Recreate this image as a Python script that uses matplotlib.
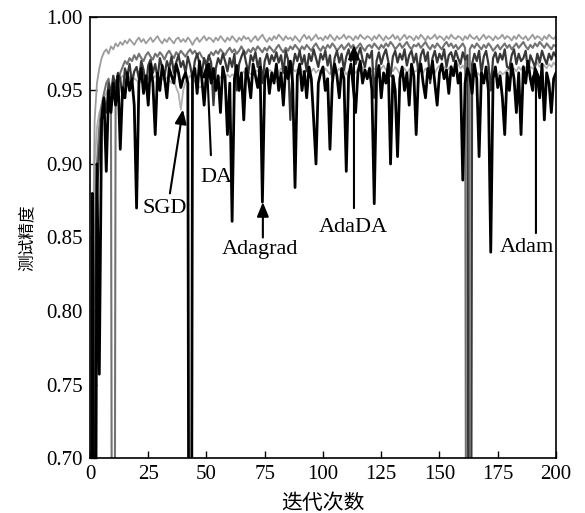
import numpy as np
import matplotlib
matplotlib.use("Agg")
import matplotlib.pyplot as plt

plt.rcParams['font.family'] = ['Liberation Serif', 'Noto Sans CJK SC']

iters = np.arange(0, 201)

sgd = [0.10, 0.70, 0.90, 0.925, 0.935, 0.940, 0.945, 0.948, 0.952, 0.950, 0.955, 0.957, 0.955, 0.958, 0.960, 0.958, 0.956, 0.959, 0.961, 0.958,
       0.957, 0.955, 0.956, 0.958, 0.957, 0.959, 0.956, 0.958, 0.960, 0.957, 0.955, 0.958, 0.957, 0.959, 0.957, 0.955, 0.957, 0.952, 0.948, 0.937,
       0.950, 0.956, 0.958, 0.960, 0.958, 0.956, 0.954, 0.952, 0.953, 0.955, 0.956, 0.958, 0.957, 0.955, 0.958, 0.957, 0.959, 0.960, 0.958, 0.961,
       0.959, 0.961, 0.960, 0.962, 0.959, 0.961, 0.963, 0.960, 0.962, 0.961, 0.963, 0.962, 0.964, 0.961, 0.963, 0.965, 0.962, 0.964, 0.963, 0.961,
       0.964, 0.962, 0.965, 0.963, 0.961, 0.964, 0.962, 0.965, 0.963, 0.964, 0.966, 0.963, 0.962, 0.964, 0.966, 0.963, 0.965, 0.962, 0.964, 0.963,
       0.962, 0.965, 0.963, 0.961, 0.964, 0.966, 0.963, 0.965, 0.962, 0.964, 0.961, 0.963, 0.966, 0.964, 0.962, 0.965, 0.963, 0.966, 0.964, 0.962,
       0.966, 0.963, 0.965, 0.964, 0.962, 0.965, 0.967, 0.964, 0.962, 0.965, 0.963, 0.966, 0.964, 0.961, 0.963, 0.965, 0.962, 0.964, 0.966, 0.963,
       0.963, 0.966, 0.964, 0.962, 0.965, 0.963, 0.966, 0.964, 0.962, 0.965, 0.967, 0.964, 0.966, 0.963, 0.965, 0.967, 0.964, 0.966, 0.968, 0.965,
       0.967, 0.964, 0.963, 0.961, 0.962, 0.960, 0.962, 0.961, 0.959, 0.961, 0.960, 0.962, 0.961, 0.959, 0.962, 0.960, 0.963, 0.961, 0.962, 0.964,
       0.964, 0.962, 0.965, 0.963, 0.966, 0.964, 0.967, 0.965, 0.968, 0.966, 0.965, 0.967, 0.969, 0.966, 0.968, 0.967, 0.965, 0.968, 0.966, 0.969,
       0.967]

adada = [0.10, 0.80, 0.93, 0.955, 0.965, 0.972, 0.976, 0.978, 0.975, 0.980, 0.978, 0.982, 0.980, 0.983, 0.981, 0.984, 0.982, 0.985, 0.983, 0.981,
         0.984, 0.986, 0.983, 0.985, 0.982, 0.984, 0.986, 0.983, 0.985, 0.987, 0.984, 0.982, 0.985, 0.983, 0.986, 0.984, 0.982, 0.985, 0.986, 0.983,
         0.985, 0.983, 0.986, 0.984, 0.981, 0.984, 0.986, 0.983, 0.985, 0.987, 0.984, 0.986, 0.985, 0.983, 0.986, 0.984, 0.987, 0.985, 0.983, 0.986,
         0.984, 0.987, 0.985, 0.983, 0.986, 0.984, 0.987, 0.985, 0.986, 0.983, 0.985, 0.987, 0.984, 0.986, 0.988, 0.985, 0.983, 0.986, 0.984, 0.987,
         0.985, 0.988, 0.986, 0.984, 0.987, 0.985, 0.986, 0.984, 0.987, 0.985, 0.983, 0.986, 0.988, 0.985, 0.987, 0.984, 0.986, 0.988, 0.985, 0.986,
         0.984, 0.987, 0.985, 0.988, 0.986, 0.984, 0.987, 0.985, 0.986, 0.988, 0.985, 0.987, 0.986, 0.984, 0.987, 0.985, 0.988, 0.986, 0.985, 0.987,
         0.986, 0.984, 0.987, 0.985, 0.988, 0.986, 0.984, 0.987, 0.985, 0.986, 0.988, 0.985, 0.987, 0.984, 0.986, 0.988, 0.985, 0.987, 0.986, 0.984,
         0.987, 0.985, 0.988, 0.986, 0.984, 0.987, 0.985, 0.986, 0.988, 0.985, 0.987, 0.986, 0.984, 0.987, 0.985, 0.988, 0.986, 0.985, 0.987, 0.986,
         0.984, 0.987, 0.985, 0.988, 0.986, 0.985, 0.987, 0.984, 0.986, 0.988, 0.985, 0.987, 0.986, 0.984, 0.987, 0.985, 0.986, 0.988, 0.985, 0.987,
         0.986, 0.984, 0.987, 0.985, 0.988, 0.986, 0.985, 0.987, 0.984, 0.986, 0.988, 0.985, 0.987, 0.986, 0.984, 0.987, 0.985, 0.988, 0.986, 0.985,
         0.987]

da = [0.10, 0.60, 0.85, 0.90, 0.925, 0.940, 0.948, 0.955, 0.958, 0.945, 0.10, 0.940, 0.955, 0.962, 0.966, 0.970, 0.968, 0.972, 0.970, 0.974,
      0.971, 0.975, 0.972, 0.970, 0.974, 0.976, 0.973, 0.971, 0.975, 0.973, 0.976, 0.974, 0.971, 0.975, 0.977, 0.974, 0.972, 0.976, 0.974, 0.977,
      0.975, 0.973, 0.976, 0.978, 0.975, 0.977, 0.974, 0.976, 0.973, 0.971, 0.969, 0.973, 0.976, 0.974, 0.977, 0.975, 0.978, 0.976, 0.974, 0.977,
      0.979, 0.976, 0.978, 0.975, 0.977, 0.980, 0.977, 0.975, 0.978, 0.976, 0.979, 0.977, 0.980, 0.978, 0.976, 0.979, 0.977, 0.980, 0.978, 0.976,
      0.979, 0.981, 0.978, 0.976, 0.979, 0.977, 0.980, 0.978, 0.981, 0.979, 0.977, 0.980, 0.978, 0.981, 0.979, 0.977, 0.980, 0.982, 0.979, 0.977,
      0.980, 0.978, 0.981, 0.979, 0.982, 0.980, 0.977, 0.979, 0.981, 0.978, 0.980, 0.982, 0.979, 0.981, 0.978, 0.980, 0.982, 0.979, 0.977, 0.980,
      0.981, 0.979, 0.982, 0.980, 0.978, 0.981, 0.979, 0.982, 0.980, 0.983, 0.981, 0.978, 0.980, 0.982, 0.979, 0.981, 0.983, 0.980, 0.978, 0.981,
      0.980, 0.982, 0.979, 0.981, 0.983, 0.980, 0.978, 0.981, 0.979, 0.982, 0.980, 0.978, 0.981, 0.983, 0.980, 0.982, 0.979, 0.981, 0.978, 0.980,
      0.982, 0.979, 0.10, 0.978, 0.981, 0.979, 0.982, 0.980, 0.978, 0.981, 0.979, 0.982, 0.980, 0.977, 0.979, 0.981, 0.978, 0.980, 0.982, 0.979,
      0.981, 0.978, 0.980, 0.982, 0.979, 0.981, 0.983, 0.980, 0.978, 0.981, 0.979, 0.982, 0.980, 0.983, 0.981, 0.979, 0.982, 0.980, 0.978, 0.981,
      0.980]

adam = [0.10, 0.55, 0.80, 0.88, 0.91, 0.93, 0.945, 0.935, 0.955, 0.948, 0.960, 0.952, 0.962, 0.958, 0.945, 0.965, 0.960, 0.968, 0.955, 0.963,
        0.966, 0.958, 0.970, 0.964, 0.952, 0.967, 0.971, 0.962, 0.968, 0.958, 0.972, 0.966, 0.960, 0.970, 0.965, 0.973, 0.962, 0.969, 0.974, 0.966,
        0.970, 0.962, 0.973, 0.967, 0.958, 0.970, 0.975, 0.968, 0.962, 0.972, 0.966, 0.974, 0.969, 0.940, 0.965, 0.972, 0.968, 0.975, 0.970, 0.963,
        0.972, 0.966, 0.975, 0.950, 0.968, 0.973, 0.977, 0.969, 0.962, 0.974, 0.970, 0.976, 0.966, 0.972, 0.955, 0.970, 0.975, 0.968, 0.974, 0.970,
        0.976, 0.969, 0.974, 0.962, 0.977, 0.971, 0.930, 0.966, 0.975, 0.970, 0.977, 0.968, 0.974, 0.963, 0.975, 0.970, 0.978, 0.972, 0.966, 0.975,
        0.971, 0.977, 0.967, 0.974, 0.958, 0.972, 0.977, 0.969, 0.975, 0.964, 0.973, 0.978, 0.970, 0.976, 0.968, 0.974, 0.979, 0.971, 0.966, 0.975,
        0.972, 0.977, 0.945, 0.970, 0.976, 0.968, 0.974, 0.978, 0.970, 0.960, 0.973, 0.977, 0.969, 0.975, 0.971, 0.978, 0.967, 0.974, 0.977, 0.969,
        0.975, 0.962, 0.974, 0.978, 0.970, 0.976, 0.955, 0.972, 0.977, 0.969, 0.975, 0.971, 0.978, 0.966, 0.974, 0.976, 0.970, 0.977, 0.972, 0.968,
        0.976, 0.971, 0.974, 0.10, 0.968, 0.975, 0.970, 0.977, 0.962, 0.973, 0.977, 0.968, 0.950, 0.972, 0.976, 0.969, 0.975, 0.971, 0.978, 0.966,
        0.965, 0.974, 0.978, 0.968, 0.975, 0.970, 0.972, 0.977, 0.963, 0.974, 0.970, 0.966, 0.975, 0.969, 0.977, 0.972, 0.968, 0.975, 0.971, 0.976,
        0.973]

adagrad = [0.10, 0.88, 0.40, 0.90, 0.757, 0.93, 0.945, 0.895, 0.950, 0.935, 0.955, 0.940, 0.960, 0.910, 0.952, 0.945, 0.962, 0.950, 0.958, 0.940,
           0.870, 0.955, 0.965, 0.948, 0.960, 0.940, 0.968, 0.955, 0.920, 0.962, 0.950, 0.967, 0.958, 0.945, 0.965, 0.960, 0.955, 0.968, 0.962, 0.952,
           0.958, 0.962, 0.955, 0.10, 0.960, 0.965, 0.948, 0.970, 0.958, 0.940, 0.962, 0.968, 0.955, 0.965, 0.950, 0.960, 0.935, 0.966, 0.958, 0.920,
           0.955, 0.861, 0.958, 0.967, 0.950, 0.962, 0.930, 0.965, 0.958, 0.945, 0.968, 0.960, 0.952, 0.966, 0.874, 0.958, 0.965, 0.948, 0.962, 0.955,
           0.968, 0.950, 0.962, 0.940, 0.966, 0.958, 0.970, 0.955, 0.884, 0.960, 0.968, 0.950, 0.963, 0.945, 0.966, 0.958, 0.930, 0.900, 0.955, 0.962,
           0.966, 0.950, 0.958, 0.910, 0.955, 0.968, 0.960, 0.945, 0.965, 0.958, 0.895, 0.960, 0.968, 0.952, 0.935, 0.962, 0.970, 0.955, 0.964, 0.958,
           0.965, 0.950, 0.873, 0.958, 0.967, 0.945, 0.962, 0.955, 0.968, 0.900, 0.960, 0.950, 0.905, 0.958, 0.966, 0.950, 0.962, 0.940, 0.968, 0.960,
           0.920, 0.962, 0.968, 0.955, 0.945, 0.965, 0.958, 0.970, 0.955, 0.940, 0.962, 0.968, 0.958, 0.964, 0.948, 0.966, 0.960, 0.970, 0.955, 0.962,
           0.889, 0.955, 0.965, 0.960, 0.948, 0.968, 0.958, 0.905, 0.962, 0.955, 0.966, 0.950, 0.840, 0.958, 0.966, 0.952, 0.960, 0.945, 0.920, 0.962,
           0.950, 0.968, 0.958, 0.935, 0.962, 0.920, 0.966, 0.955, 0.970, 0.958, 0.950, 0.965, 0.960, 0.945, 0.968, 0.930, 0.962, 0.955, 0.935, 0.958,
           0.962]

# label, arrow tail, arrow tip, text position (data coords)
labels = ["SGD", "DA", "Adagrad", "AdaDA", "Adam"]
tails = [(34.3, 0.880), (51.9, 0.906), (74.2, 0.850), (113.3, 0.870), (191.4, 0.853)]
tips = [(39.9, 0.937), (50.2, 0.969), (74.2, 0.874), (113.3, 0.981), (191.4, 0.966)]
text_pos = [(32.2, 0.870), (54.1, 0.891), (73.0, 0.842), (112.9, 0.857), (187.6, 0.843)]

fig = plt.figure(figsize=(5.85, 5.13), dpi=100)
ax = fig.add_axes([0.1538, 0.1072, 0.7966, 0.8597])

ax.plot(iters, sgd, color="#b0b0b0", lw=1.3)
ax.plot(iters, adada, color="#9c9c9c", lw=1.3)
ax.plot(iters, da, color="#737373", lw=1.5)
ax.plot(iters, adam, color="#383838", lw=1.6)
ax.plot(iters, adagrad, color="black", lw=2.0)

for lab, tail, tip, pos in zip(labels, tails, tips, text_pos):
    ax.annotate("", xy=tip, xytext=tail,
                arrowprops=dict(arrowstyle="-|>,head_length=0.85,head_width=0.35",
                                color="black", lw=1.5, mutation_scale=10,
                                shrinkA=0, shrinkB=0))
    ax.text(pos[0], pos[1], lab, fontsize=16, ha="center", va="center")

ax.set_xlim(0, 200)
ax.set_ylim(0.70, 1.00)
ax.set_xticks([0, 25, 50, 75, 100, 125, 150, 175, 200])
ax.set_yticks([0.70, 0.75, 0.80, 0.85, 0.90, 0.95, 1.00])
ax.set_yticklabels(["0.70", "0.75", "0.80", "0.85", "0.90", "0.95", "1.00"])
ax.tick_params(direction="in", length=5, width=1, labelsize=15, pad=5)
for s in ax.spines.values():
    s.set_linewidth(1.2)

ax.set_xlabel("迭代次数", family=["Noto Sans CJK SC"], fontsize=15, labelpad=6)
ax.set_ylabel("测试精度", family=["Noto Sans CJK SC"], fontsize=12, labelpad=8)

fig.savefig("out.png", dpi=100)
